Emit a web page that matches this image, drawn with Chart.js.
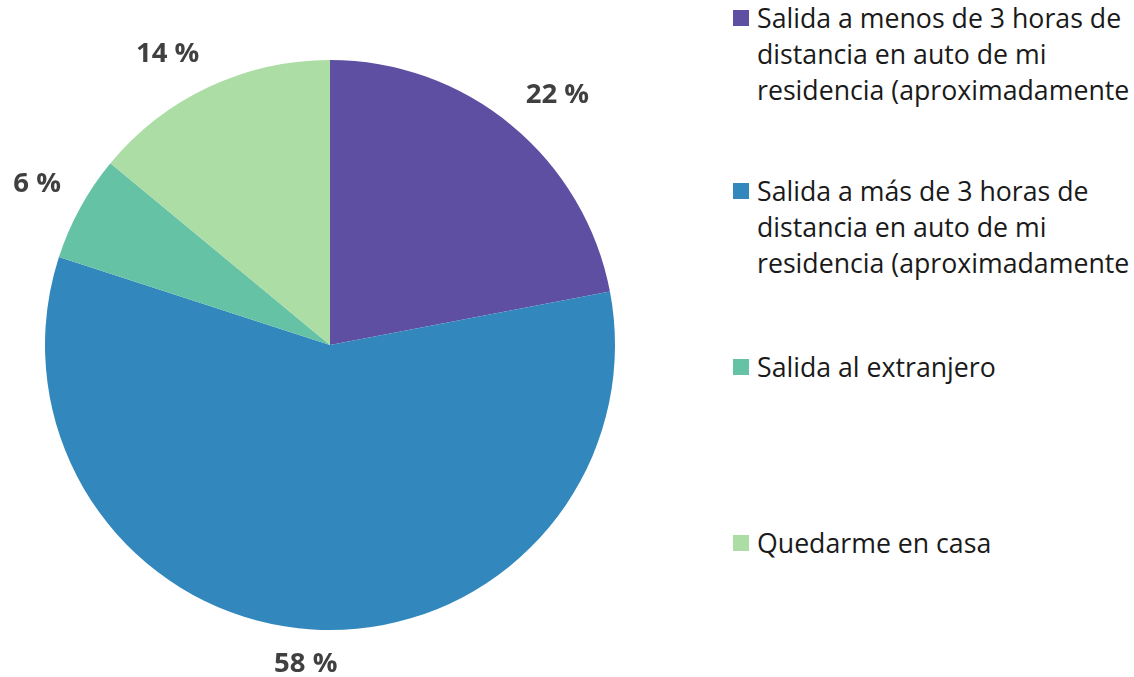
<!DOCTYPE html>
<html>
<head>
<meta charset="utf-8">
<script src="https://cdn.jsdelivr.net/npm/chart.js@4.4.0/dist/chart.umd.min.js"></script>
<style>
    html, body { margin: 0; padding: 0; background: #fff; overflow: hidden; }
    body { width: 1134px; height: 677px; position: relative; font-family: 'Open Sans', sans-serif; }
    #wrap { position: absolute; left: 0; top: 0; width: 660px; height: 677px; }
    #leyenda { position: absolute; left: 733px; top: 0; width: 401px; }
    .item { position: absolute; left: 0; width: 401px; font-size: 26.7px; line-height: 36px; color: #1a1a1a; }
    .item .caja { position: absolute; left: 0; top: 10px; width: 16px; height: 16px; }
    .item .txt { margin-left: 24px; width: 375px; white-space: normal; }
</style>
</head>
<body>
<div id="wrap"><canvas id="pieChart" width="660" height="677"></canvas></div>
<div id="leyenda"></div>
<script>
// Datos del gráfico
const categorias = [
    'Salida a menos de 3 horas de distancia en auto de mi residencia (aproximadamente',
    'Salida a más de 3 horas de distancia en auto de mi residencia (aproximadamente',
    'Salida al extranjero',
    'Quedarme en casa'
];
const valores = [22, 58, 6, 14];
const colores = ['#5E4FA2', '#3288BD', '#66C2A5', '#ABDDA4'];
const posLeyenda = [0, 173, 349, 525]; // top de cada item de leyenda

// Leyenda HTML
function renderLeyenda() {
    const cont = document.getElementById('leyenda');
    let html = '';
    categorias.forEach((cat, i) => {
        html += `
            <div class="item" style="top:${posLeyenda[i]}px">
                <div class="caja" style="background:${colores[i]}"></div>
                <div class="txt">${cat}</div>
            </div>`;
    });
    cont.innerHTML = html;
}

// Etiquetas de porcentaje fuera del pastel (esquina del texto junto al borde)
const etiquetasPlugin = {
    id: 'etiquetas',
    afterDatasetsDraw(chart) {
        const ctx = chart.ctx;
        const meta = chart.getDatasetMeta(0);
        const clamp = v => Math.max(-1, Math.min(1, v));
        ctx.save();
        ctx.font = 'bold 27.5px "Open Sans"';
        ctx.fillStyle = '#404040';
        ctx.textAlign = 'center';
        ctx.textBaseline = 'middle';
        meta.data.forEach((arc, i) => {
            const mid = (arc.startAngle + arc.endAngle) / 2;
            const r = arc.outerRadius + 22;
            const txt = valores[i] + ' %';
            const w = ctx.measureText(txt).width;
            const h = 26;
            const dx = Math.cos(mid), dy = Math.sin(mid);
            const ax = arc.x + dx * r;
            const ay = arc.y + dy * r;
            ctx.fillText(txt, ax + clamp(dx * 2.5) * w / 2, ay + clamp(dy * 2.5) * h / 2);
        });
        ctx.restore();
    }
};

function renderPie() {
    const ctx = document.getElementById('pieChart').getContext('2d');
    window.pieInstance = new Chart(ctx, {
        type: 'pie',
        data: {
            labels: categorias,
            datasets: [{
                data: valores,
                backgroundColor: colores,
                borderWidth: 0
            }]
        },
        options: {
            responsive: false,
            animation: false,
            layout: { padding: { top: 60, bottom: 47, left: 45, right: 45 } },
            plugins: {
                legend: { display: false },
                tooltip: { enabled: false }
            }
        },
        plugins: [etiquetasPlugin]
    });
}

renderLeyenda();
renderPie();
</script>
</body>
</html>
